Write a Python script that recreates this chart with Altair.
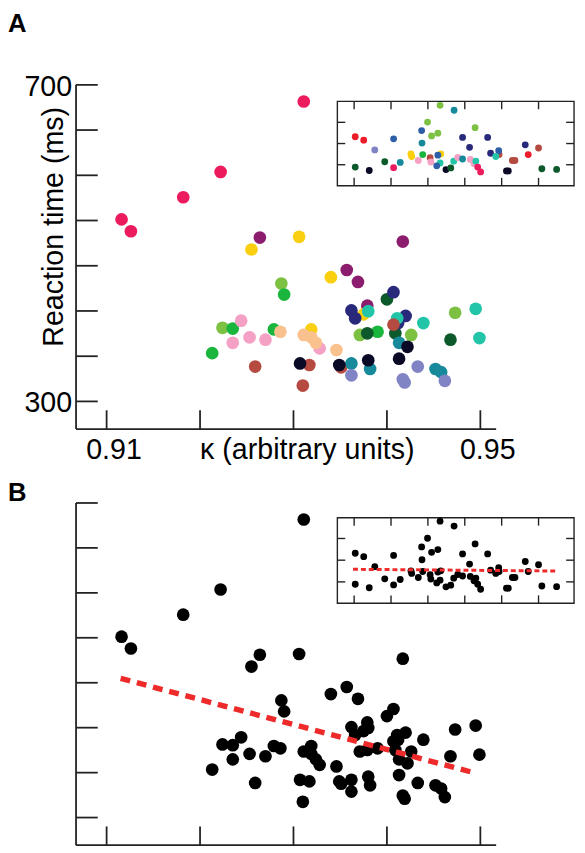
import altair as alt
import pandas as pd

FONT = "Liberation Sans"

# ---------------- data ----------------
subjects = ["S1", "S2", "S3", "S4", "S5", "S6", "S7", "S8",
            "S9", "S10", "S11", "S12", "S13", "S14", "S15", "S16"]
palette = ["#EC1B5D", "#8C1D6E", "#F9CF0F", "#7DC143", "#1AB53D", "#0C5A2B",
           "#28297A", "#22C5A8", "#B44A40", "#168A9B", "#0B0A26", "#8084C4",
           "#F5A0C5", "#F8C18D", "#ED1C2B", "#2E5EA8"]

kappa = [0.9116, 0.9126, 0.9182, 0.9222, 0.9311,
         0.9264, 0.9417, 0.9357, 0.9369, 0.9379,
         0.9255, 0.9306, 0.9340, 0.9375, 0.9319,
         0.9287, 0.9473, 0.9426, 0.9371, 0.9224,
         0.9290, 0.9390, 0.9279, 0.9235, 0.9213,
         0.9400, 0.9409, 0.9468, 0.9379,
         0.9407, 0.9362, 0.9366, 0.9420, 0.9412,
         0.9380, 0.9495, 0.9439, 0.9499, 0.9411,
         0.9407, 0.9259, 0.9317, 0.9310, 0.9351,
         0.9413, 0.9362, 0.9382, 0.9452, 0.9458,
         0.9422, 0.9307, 0.9349, 0.9380, 0.9413,
         0.9362, 0.9433, 0.9417, 0.9419, 0.9462,
         0.9244, 0.9253, 0.9270, 0.9328, 0.9235,
         0.9286, 0.9311, 0.9319, 0.9324, 0.9346]
rt = [530, 515, 558, 590, 679,
      507, 502, 466, 451, 421,
      492, 508, 457, 410, 391,
      449, 412, 384, 384, 393,
      435, 388, 391, 392, 361,
      429, 386, 378, 386,
      438, 415, 405, 408, 399,
      414, 417, 399, 380, 405,
      397, 344, 346, 320, 343,
      374, 348, 341, 341, 337,
      369, 348, 346, 352, 354,
      333, 344, 328, 324, 326,
      402, 381, 378, 367, 374,
      388, 384, 381, 374, 365]
subject = (["S1"] * 5 + ["S2"] * 5 + ["S3"] * 5 + ["S4"] * 5 + ["S5"] * 5 +
           ["S6"] * 4 + ["S7"] * 5 + ["S8"] * 5 + ["S9"] * 5 + ["S10"] * 5 +
           ["S11"] * 5 + ["S12"] * 5 + ["S13"] * 5 + ["S14"] * 5)

inset_x = [1.03, 1.03, 1.26, 1.41, 1.56, 1.83, 2.07, 2.07, 2.25, 2.54,
           2.56, 2.74, 2.83, 2.84, 2.86, 2.99, 3.06, 3.08, 3.10, 3.27,
           3.33, 3.35, 3.27, 3.33, 3.24, 3.49, 3.62, 3.71, 3.70, 3.81,
           3.94, 3.94, 4.13, 4.28, 4.15, 4.25, 4.30, 4.35, 4.43, 4.62,
           4.70, 4.93, 4.92, 4.84, 5.13, 5.18, 5.29, 5.36, 5.64, 5.72,
           6.00, 6.09, 6.49]
inset_y = [0.89, 2.32, 2.16, 0.73, 1.70, 1.14, 0.86, 2.22, 1.11, 1.51,
           1.39, 1.20, 2.61, 2.02, 1.48, 3.01, 1.33, 1.13, 2.36, 2.49,
           3.80, 1.51, 1.45, 1.08, 0.95, 0.77, 0.85, 3.57, 1.17, 1.34,
           1.27, 2.29, 1.82, 2.75, 1.25, 1.05, 1.17, 0.89, 0.66, 2.29,
           1.54, 1.48, 1.66, 1.39, 0.71, 0.71, 1.20, 1.20, 1.94, 1.48,
           1.79, 0.81, 0.78]
inset_subject = ["S6", "S15", "S15", "S11", "S12", "S6", "S1", "S16", "S10", "S3",
                 "S3", "S13", "S16", "S10", "S5", "S4", "S9", "S13", "S4", "S4",
                 "S4", "S3", "S16", "S8", "S16", "S11", "S6", "S10", "S8", "S13",
                 "S10", "S7", "S7", "S4", "S13", "S13", "S8", "S1", "S1", "S7",
                 "S7", "S9", "S16", "S8", "S11", "S11", "S9", "S9", "S7", "S15",
                 "S9", "S6", "S6"]

fit_kappa = [0.9115, 0.9490]
fit_rt = [477, 358]
inset_fit_x = [0.97, 6.51]
inset_fit_y = [1.58, 1.50]

rt_ticks = [300, 357.1, 414.3, 471.4, 528.6, 585.7, 642.9, 700]
rt_tick_labels = ["300", "", "", "", "", "", "", "700"]
kappa_ticks = [0.91, 0.92, 0.93, 0.94, 0.95]
kappa_tick_labels = ["0.91", "", "", "", "0.95"]
inset_xticks = [1, 2, 3, 4, 5, 6]
inset_yticks = [1, 2, 3]

# ---------------- tables ----------------
main_df = pd.DataFrame({"kappa": kappa, "rt": rt, "subject": subject})
inset_df = pd.DataFrame({"ix": inset_x, "iy": inset_y, "subject": inset_subject})
fit_df = pd.DataFrame({"kappa": fit_kappa, "rt": fit_rt})
ifit_df = pd.DataFrame({"ix": inset_fit_x, "iy": inset_fit_y})
rt_tick_df = pd.DataFrame({"v": rt_ticks, "lab": rt_tick_labels})
k_tick_df = pd.DataFrame({"v": kappa_ticks, "lab": kappa_tick_labels})
ix_tick_df = pd.DataFrame({"v": inset_xticks})
iy_tick_df = pd.DataFrame({"v": inset_yticks})
one = pd.DataFrame({"d": [0]})


def sc(domain, rng):
    return alt.Scale(domain=domain, range=rng, nice=False, zero=False)


KX = sc([0.91, 0.95], [100, 479])
AY = sc([300, 700], [393, 72])
BY = sc([300, 700], [815, 496])
IX = sc([1, 6], [351, 538])
IAY = sc([1, 3], [153, 110])
IBY = sc([1, 3], [576, 532])

AX_COL = "#222222"
AX_W = 1.8
LAB = 29
PT = 165
IPT = 48


def vrule(x, y, y2, w=AX_W):
    return alt.Chart(one).mark_rule(color=AX_COL, strokeWidth=w).encode(
        x=alt.value(x), y=alt.value(y), y2=alt.value(y2))


def hrule(y, x, x2, w=AX_W):
    return alt.Chart(one).mark_rule(color=AX_COL, strokeWidth=w).encode(
        y=alt.value(y), x=alt.value(x), x2=alt.value(x2))


def text(t, x, y, size, **kw):
    return alt.Chart(pd.DataFrame({"t": [t]})).mark_text(
        font=FONT, fontSize=size, color="black", **kw).encode(
        text="t:N", x=alt.value(x), y=alt.value(y))


def main_axes(ysc, top, bottom, labels):
    layers = [
        vrule(69, top, bottom),
        hrule(bottom, 69, 495),
        alt.Chart(rt_tick_df).mark_rule(color=AX_COL, strokeWidth=AX_W).encode(
            y=alt.Y("v:Q", scale=ysc, axis=None), x=alt.value(69), x2=alt.value(91)),
        alt.Chart(k_tick_df).mark_rule(color=AX_COL, strokeWidth=AX_W).encode(
            x=alt.X("v:Q", scale=KX, axis=None), y=alt.value(bottom - 19), y2=alt.value(bottom)),
    ]
    if labels:
        layers += [
            alt.Chart(rt_tick_df).mark_text(font=FONT, fontSize=LAB, align="right",
                                            baseline="middle", dy=2).encode(
                y=alt.Y("v:Q", scale=ysc, axis=None), x=alt.value(65), text="lab:N"),
            alt.Chart(k_tick_df).mark_text(font=FONT, fontSize=LAB, align="center",
                                           baseline="alphabetic", dx=7.5).encode(
                x=alt.X("v:Q", scale=KX, axis=None), y=alt.value(bottom + 30), text="lab:N"),
            text("\u03ba (arbitrary units)", 303.5, bottom + 30, LAB, align="center",
                 baseline="alphabetic"),
            text("Reaction time (ms)", 56, 216, LAB, align="center",
                 baseline="alphabetic", angle=270),
        ]
    return layers


def inset(ysc, top, bottom, colored):
    left, right = 334, 574
    tl = 8
    layers = [
        alt.Chart(one).mark_rect(fill="white", stroke=AX_COL, strokeWidth=1.4).encode(
            x=alt.value(left), x2=alt.value(right), y=alt.value(top), y2=alt.value(bottom)),
        alt.Chart(ix_tick_df).mark_rule(color=AX_COL, strokeWidth=1.4).encode(
            x=alt.X("v:Q", scale=IX, axis=None), y=alt.value(top), y2=alt.value(top + tl)),
        alt.Chart(ix_tick_df).mark_rule(color=AX_COL, strokeWidth=1.4).encode(
            x=alt.X("v:Q", scale=IX, axis=None), y=alt.value(bottom - tl), y2=alt.value(bottom)),
        alt.Chart(iy_tick_df).mark_rule(color=AX_COL, strokeWidth=1.4).encode(
            y=alt.Y("v:Q", scale=ysc, axis=None), x=alt.value(left), x2=alt.value(left + tl)),
        alt.Chart(iy_tick_df).mark_rule(color=AX_COL, strokeWidth=1.4).encode(
            y=alt.Y("v:Q", scale=ysc, axis=None), x=alt.value(right - tl), x2=alt.value(right)),
    ]
    if colored:
        layers.append(alt.Chart(inset_df).mark_circle(size=IPT, opacity=1).encode(
            x=alt.X("ix:Q", scale=IX, axis=None),
            y=alt.Y("iy:Q", scale=ysc, axis=None),
            color=alt.Color("subject:N", scale=alt.Scale(domain=subjects, range=palette),
                            legend=None)))
    else:
        layers.append(alt.Chart(inset_df).mark_circle(size=IPT, opacity=1, color="black").encode(
            x=alt.X("ix:Q", scale=IX, axis=None),
            y=alt.Y("iy:Q", scale=ysc, axis=None)))
        layers.append(alt.Chart(ifit_df).mark_line(color="#EE2A2A", strokeWidth=3,
                                                   strokeDash=[5, 3]).encode(
            x=alt.X("ix:Q", scale=IX, axis=None),
            y=alt.Y("iy:Q", scale=ysc, axis=None)))
    return layers


layers = []
# ---- panel A ----
layers += main_axes(AY, 72, 421, True)
layers.append(alt.Chart(main_df).mark_circle(size=PT, opacity=1).encode(
    x=alt.X("kappa:Q", scale=KX, axis=None),
    y=alt.Y("rt:Q", scale=AY, axis=None),
    color=alt.Color("subject:N", scale=alt.Scale(domain=subjects, range=palette), legend=None)))
layers += inset(IAY, 88.7, 174.3, True)
layers.append(text("A", 0, 18, 26, align="left", baseline="alphabetic", fontWeight="bold"))

# ---- panel B ----
layers += main_axes(BY, 496, 843, False)
layers.append(alt.Chart(main_df).mark_circle(size=PT, opacity=1, color="black").encode(
    x=alt.X("kappa:Q", scale=KX, axis=None),
    y=alt.Y("rt:Q", scale=BY, axis=None)))
layers.append(alt.Chart(fit_df).mark_line(color="#EE2A2A", strokeWidth=5.5,
                                          strokeDash=[10, 7]).encode(
    x=alt.X("kappa:Q", scale=KX, axis=None),
    y=alt.Y("rt:Q", scale=BY, axis=None)))
layers += inset(IBY, 511, 597.7, False)
layers.append(text("B", 0, 494, 26, align="left", baseline="alphabetic", fontWeight="bold"))

chart = alt.layer(*layers).resolve_scale(
    x="independent", y="independent", color="independent"
).properties(
    width=577, height=845, padding=0,
    autosize=alt.AutoSizeParams(type="none"),
    background="white",
).configure_view(stroke=None)

chart.save("out.html", embed_options={"renderer": "svg", "actions": False})
